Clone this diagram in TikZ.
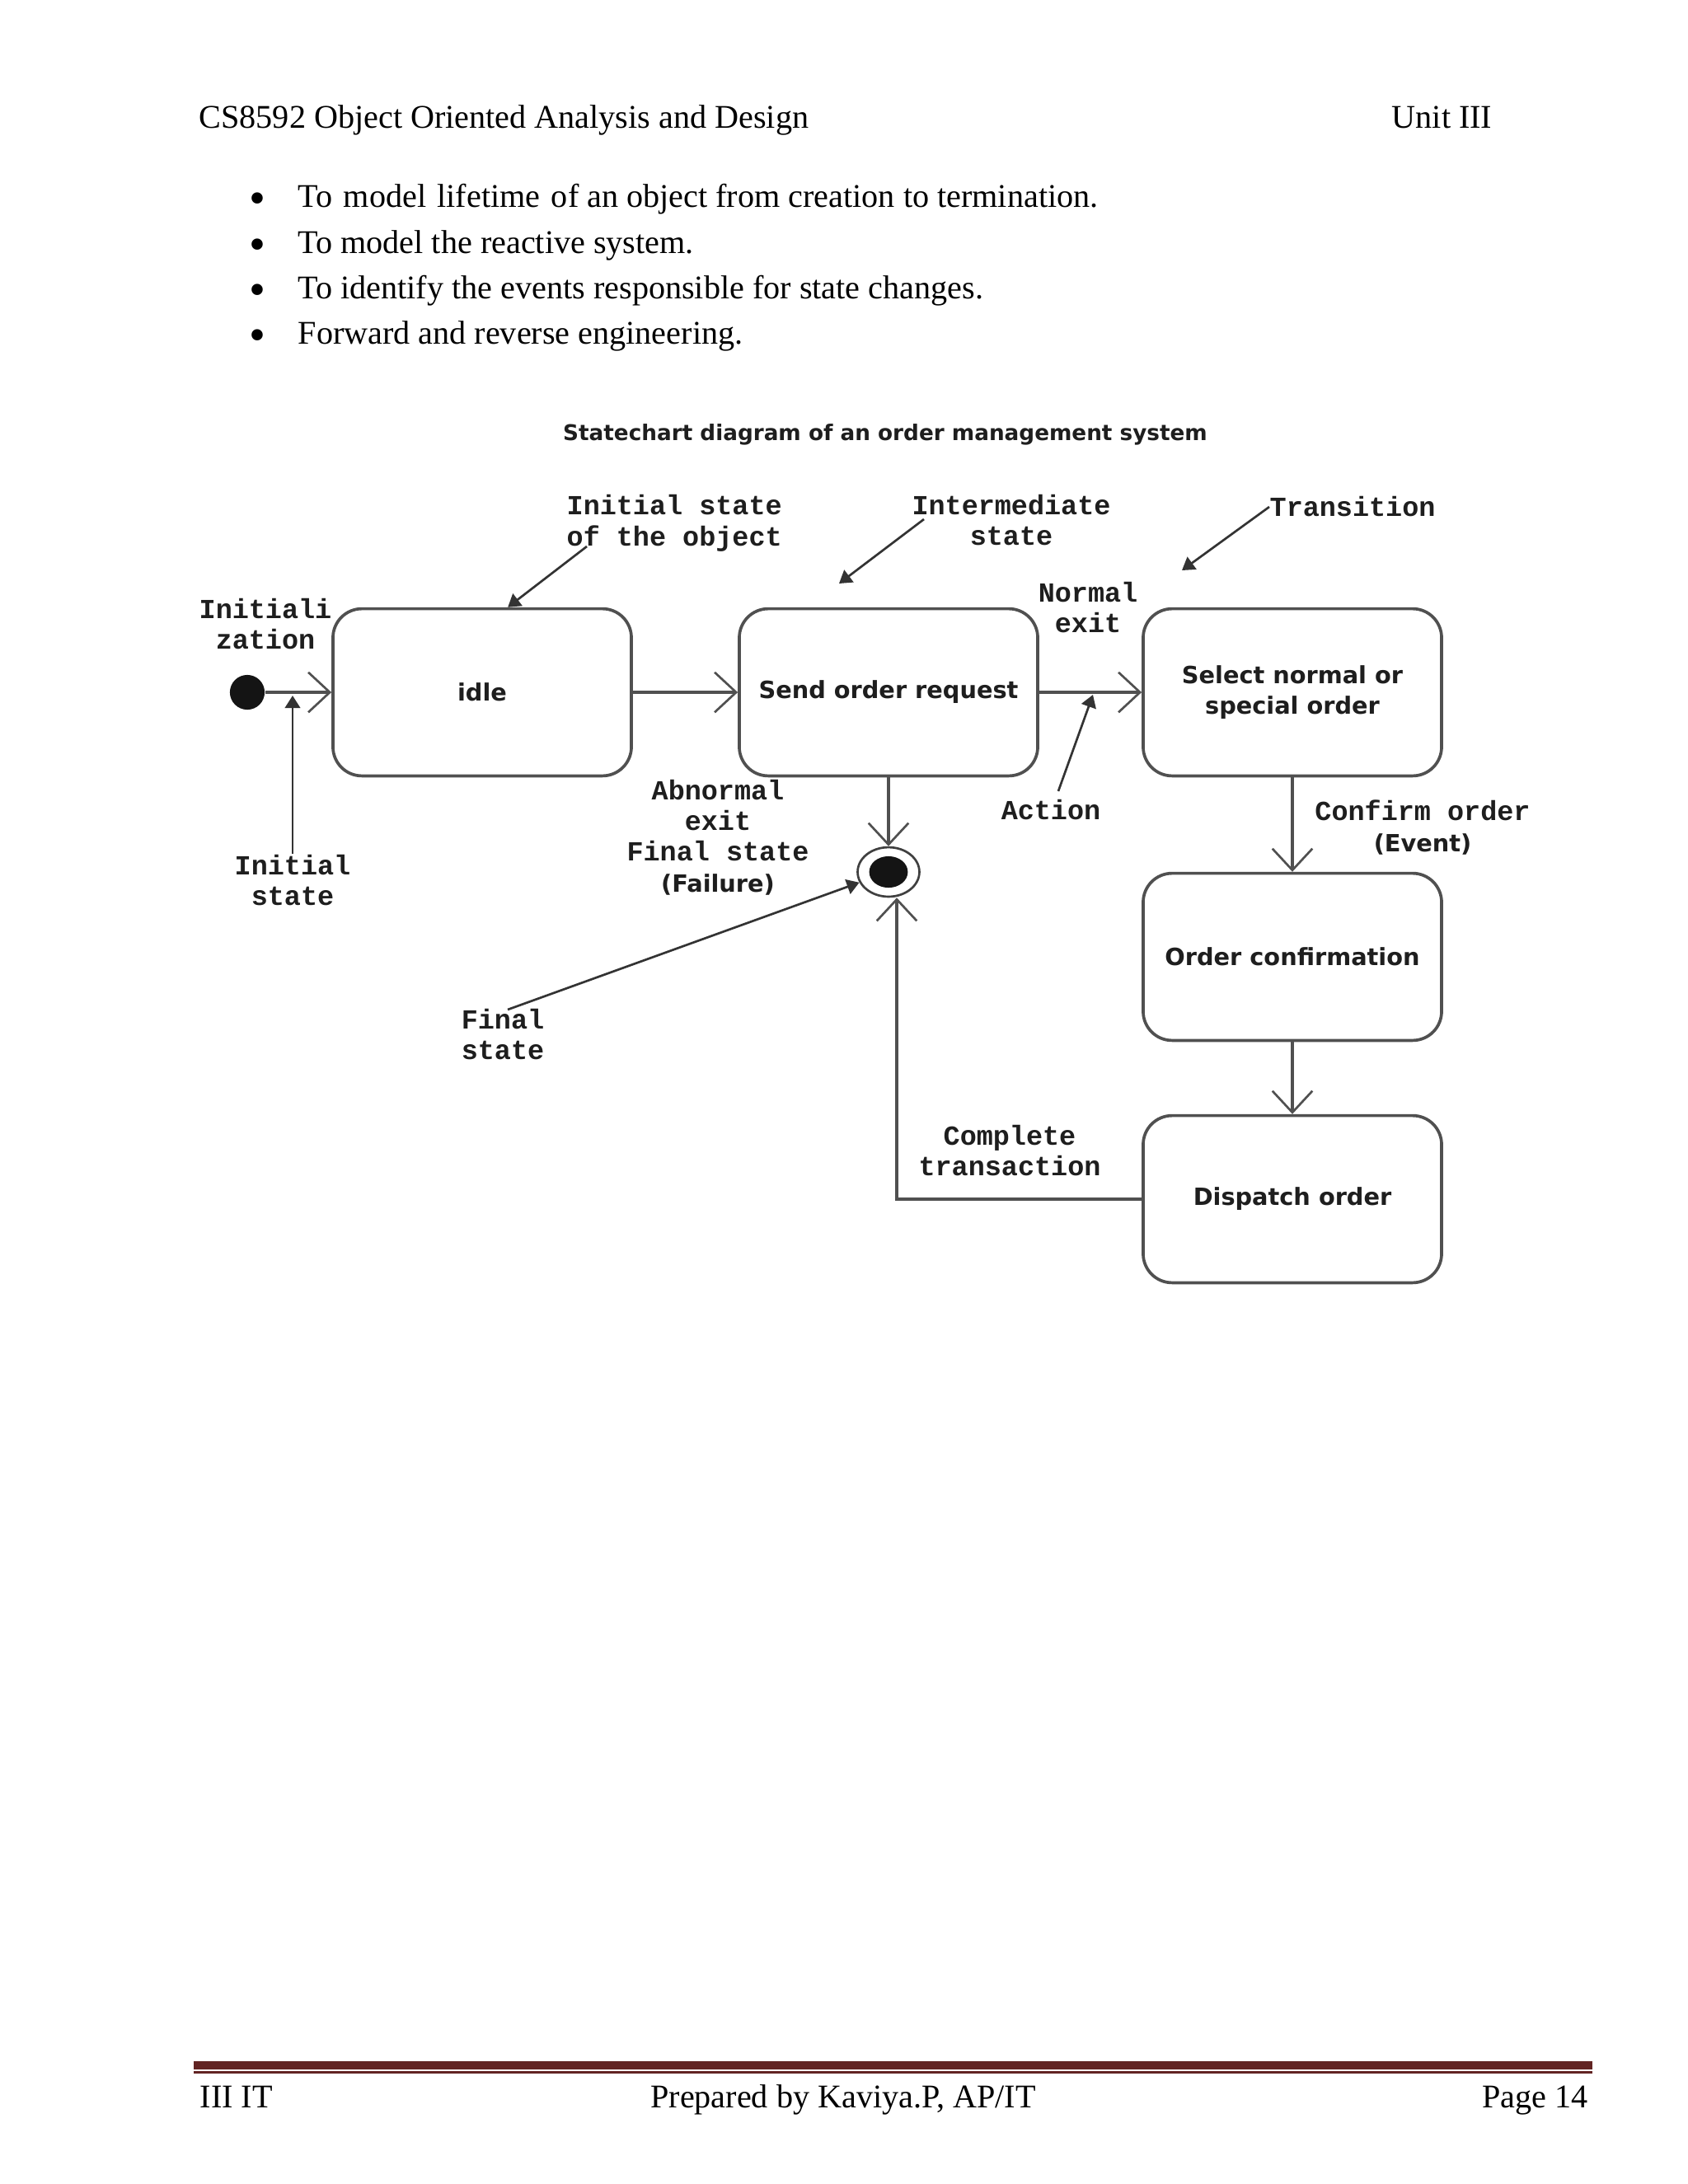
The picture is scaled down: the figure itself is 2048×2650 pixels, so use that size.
\documentclass[tikz,border=0pt]{standalone}
\usepackage{fontspec}
\setmainfont{Liberation Serif}
\newfontfamily\courf{Liberation Mono}
\newfontfamily\dejaf{DejaVu Sans}
\usetikzlibrary{arrows.meta,shapes.geometric,calc}
\definecolor{footred}{HTML}{622423}
\definecolor{lc}{HTML}{505050}
\definecolor{tc}{HTML}{1E1E1E}
\begin{document}
\begin{tikzpicture}[x=0.298828pt,y=-0.298828pt,
  statebox/.style={draw=lc, line width=1.1pt, rounded corners=10.5pt, minimum width=108.2pt, minimum height=60.6pt, inner sep=0pt, align=center, font=\dejaf\bfseries\fontsize{8.6}{10.8}\selectfont, text=tc},
  trans/.style={draw=lc, line width=1pt, -{Straight Barb[length=7.8pt,width=14.5pt,line width=0.8pt]}},
  ann/.style={draw=black!80, line width=0.8pt, -{Triangle[length=4.5pt,width=5.5pt]}},
  lbl/.style={font=\courf\bfseries\fontsize{10}{11.2}\selectfont, text=tc, align=center, inner sep=0pt},
  doc/.style={font=\fontsize{12}{14}\selectfont, inner sep=0pt, text=black},
  bul/.style={font=\fontsize{17}{17}\selectfont, inner sep=0pt, text=black, anchor=base},
]
\useasboundingbox[fill=white] (0,0) rectangle (2048,2650);

% header and bullets
\node[doc, anchor=base west] (hl) at (241,155) {CS8592 Object Oriented Analysis and Design};
\node[doc, anchor=base east] (hr) at (1811,155) {Unit III};
\node[bul] (b1) at (312,259) {\textbullet};
\node[bul] (b2) at (312,315) {\textbullet};
\node[bul] (b3) at (312,370) {\textbullet};
\node[bul] (b4) at (312,425) {\textbullet};
\node[doc, anchor=base west] (t1) at (361,251) {To\hspace{1pt} model\hspace{1pt} lifetime\hspace{1pt} of an object from creation to termination.};
\node[doc, anchor=base west] (t2) at (361,307) {To model the reactive system.};
\node[doc, anchor=base west] (t3) at (361,362) {To identify the events responsible for state changes.};
\node[doc, anchor=base west] (t4) at (361,417) {Forward and reverse engineering.};

% footer
\draw[footred, line width=3pt] (235,2506) -- (1932,2506);
\draw[footred, line width=0.9pt] (235,2514.5) -- (1932,2514.5);
\node[doc, anchor=base west] (f1) at (242,2557) {III IT};
\node[doc, anchor=base] (f2) at (1023,2557) {Prepared by Kaviya.P, AP/IT};
\node[doc, anchor=base east] (f3) at (1927,2557) {Page 14};

% diagram title
\node[font=\dejaf\bfseries\fontsize{7.85}{10}\selectfont, text=tc, inner sep=0pt] (title) at (1074,527) {Statechart diagram of an order management system};

% states
\node[statebox] (idle) at (585,840) {idle};
\node[statebox] (send) at (1078,840) {Send order request};
\node[statebox] (select) at (1568,840) {Select normal or\\special order};
\node[statebox] (confirm) at (1568,1161) {Order confirmation};
\node[statebox] (dispatch) at (1568,1455) {Dispatch order};
\node[circle, fill=black!92, inner sep=0pt, minimum size=12.6pt] (init) at (300,840) {};
\node[ellipse, draw=black!75, line width=0.8pt, fill=white, inner sep=0pt, minimum width=22.4pt, minimum height=17.9pt] (fin) at (1078,1058) {};
\fill[black!92] (fin.center) ellipse [x radius=7pt, y radius=5.7pt];

% transitions
\draw[trans] (init) -- (idle);
\draw[trans] (idle) -- (send);
\draw[trans] (send) -- (select);
\draw[trans] (send) -- (fin);
\draw[trans] (select) -- (confirm);
\draw[trans] (confirm) -- (dispatch);
\draw[trans] (dispatch.west) -| ([xshift=3pt]fin.south);

% labels
\node[lbl, anchor=west, align=left] (lis) at (687,635) {Initial state\\of the object};
\node[lbl] (lint) at (1227,631) {Intermediate\\state};
\node[lbl, anchor=west] (ltr) at (1540,615) {Transition};
\node[lbl] (lne) at (1320,737) {Normal\\exit};
\node[lbl] (liz) at (322,757) {Initiali\\zation};
\node[lbl] (lini) at (355,1068) {Initial\\state};
\node[lbl] (labn) at (871,1016) {Abnormal\\exit\\Final state\\{\dejaf\bfseries\fontsize{8.6}{10.8}\selectfont (Failure)}};
\node[lbl] (lact) at (1275,983) {Action};
\node[lbl] (lco) at (1726,1004) {Confirm order\\{\dejaf\bfseries\fontsize{8.6}{10.8}\selectfont (Event)}};
\node[lbl] (lfin) at (610,1255) {Final\\state};
\node[lbl] (lct) at (1225,1396) {Complete\\transaction};

% annotation arrows
\coordinate (isS) at (712,663);
\coordinate (intS) at (1121,630);
\coordinate (intT) at (1018,708);
\coordinate (trT) at (1434,692);
\coordinate (iniT) at (355,844);
\coordinate (actS) at (1284,960);
\coordinate (actT) at (1326,843);
\coordinate (finS) at (616,1225);
\draw[ann] (isS) -- ($(idle.north west)+(214,0)$);
\draw[ann] (intS) -- (intT);
\draw[ann] (ltr.west) -- (trT);
\draw[ann] (lini.north) -- (iniT);
\draw[ann] (actS) -- (actT);
\draw[ann] (finS) -- (fin);
\end{tikzpicture}
\end{document}
